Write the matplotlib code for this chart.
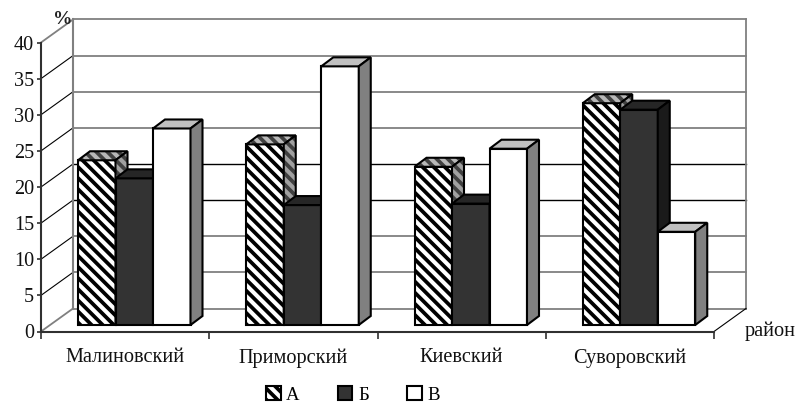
import matplotlib
matplotlib.use('Agg')
import matplotlib.pyplot as plt
from matplotlib.patches import Polygon, Patch

plt.rcParams['font.family'] = ['Liberation Serif', 'DejaVu Serif']
plt.rcParams['hatch.linewidth'] = 2.7
plt.rcParams['hatch.color'] = 'black'

districts = ['Малиновский', 'Приморский', 'Киевский', 'Суворовский']
series_names = ['А', 'Б', 'В']
vals_a = [22.8, 25.0, 21.9, 30.7]
vals_b = [20.3, 16.6, 16.8, 29.8]
vals_v = [27.2, 35.8, 24.4, 12.9]
yticks = [0, 5, 10, 15, 20, 25, 30, 35, 40]

W, H = 798, 405
fig = plt.figure(figsize=(W / 100, H / 100), dpi=100)
ax = fig.add_axes([41 / W, (H - 331.5) / H, 673 / W, 289 / H])
ax.set_xlim(0, 4)
ax.set_ylim(0, 40)

# pixels -> data units, for the fake 3d depth
px = 4 / 673
py = 40 / 289
wall_dx, wall_dy = 32 * px, 23 * py
bar_dx, bar_dy = 12 * px, 9 * py
base_dy = 6.5 * py
bar_w = 37.5 * px

gray = '#808080'
hatch_a = '\\\\\\'

# back wall and grid
grid_cols = [gray, gray, gray, 'black', 'black', gray, gray, gray, gray]
for v, c in zip(yticks, grid_cols):
    ax.plot([wall_dx, 4 + wall_dx], [v + wall_dy, v + wall_dy], color=c, lw=1.0 if c == 'black' else 1.3, clip_on=False, zorder=1)
    ax.plot([0, wall_dx], [v, v + wall_dy], color='black' if 0 < v < 40 else gray, lw=0.8 if 0 < v < 40 else 1.3, clip_on=False, zorder=1)
ax.plot([wall_dx, wall_dx], [wall_dy, 40 + wall_dy], color=gray, lw=1.5, clip_on=False, zorder=1)
ax.plot([4 + wall_dx, 4 + wall_dx], [wall_dy, 40 + wall_dy], color=gray, lw=1.3, clip_on=False, zorder=1)
ax.plot([4, 4 + wall_dx], [0, wall_dy], color='black', lw=0.8, clip_on=False, zorder=1)


def face(pts, fc, hatch=None, hc='black'):
    if hatch:
        ax.add_patch(Polygon(pts, closed=True, facecolor=fc, edgecolor=hc, hatch=hatch, lw=0, clip_on=False, zorder=3))
        ax.add_patch(Polygon(pts, closed=True, fill=False, edgecolor='black', lw=1.5, clip_on=False, zorder=3))
    else:
        ax.add_patch(Polygon(pts, closed=True, facecolor=fc, edgecolor='black', lw=1.5, clip_on=False, zorder=3))


def bar3d(x, v, front, top, side, hatch=None, top_hc='#404040', side_hc='#404040'):
    y0 = base_dy
    x1 = x + bar_w
    face([(x, y0), (x1, y0), (x1, v + y0), (x, v + y0)], front, hatch)
    face([(x, v + y0), (x1, v + y0), (x1 + bar_dx, v + y0 + bar_dy), (x + bar_dx, v + y0 + bar_dy)], top, hatch, top_hc)
    face([(x1, y0), (x1 + bar_dx, y0 + bar_dy), (x1 + bar_dx, v + y0 + bar_dy), (x1, v + y0)], side, hatch, side_hc)


offset = 37 * px
for i in range(len(districts)):
    x = i + offset
    bar3d(x, vals_a[i], 'white', '#b8b8b8', '#a0a0a0', hatch_a)
    bar3d(x + bar_w, vals_b[i], '#333333', '#262626', '#1a1a1a')
    bar3d(x + 2 * bar_w, vals_v[i], 'white', '#c0c0c0', gray)

# axes
for s in ['top', 'right']:
    ax.spines[s].set_visible(False)
for s in ['left', 'bottom']:
    ax.spines[s].set_color('#303030')
    ax.spines[s].set_linewidth(1.5)
    ax.spines[s].set_zorder(5)
ax.patch.set_visible(False)
ax.set_yticks(yticks)
ax.set_xticks(range(5))
ax.set_xticklabels([])
ax.set_xticks([0.5, 1.5, 2.5, 3.5], minor=True)
ax.set_xticklabels(districts, minor=True)
ax.tick_params(axis='x', which='minor', length=0, labelsize=14.6, pad=12, labelcolor='#111111')
ax.tick_params(axis='x', which='major', length=5, width=1.2, color='#303030')
ax.tick_params(axis='y', length=3, width=1.2, color='#303030', labelsize=14.6, pad=2, labelcolor='#111111')

fig.text(63 / W, 1 - 20 / H, '%', fontsize=14, ha='center', va='center', fontweight='bold', color='#222222')
fig.text(745 / W, 1 - 331 / H, 'район', fontsize=14.6, ha='left', va='center', color='#111111')

handles = [
    Patch(facecolor='white', edgecolor='black', hatch=hatch_a, lw=1.5),
    Patch(facecolor='#333333', edgecolor='black', lw=1.5),
    Patch(facecolor='white', edgecolor='black', lw=1.5),
]
fig.legend(handles, series_names, ncol=3, loc='center', bbox_to_anchor=(353 / W, 1 - 395 / H), frameon=False,
           fontsize=13.5, handlelength=0.76, handleheight=0.76, handletextpad=0.3, columnspacing=2.05, borderpad=0)

fig.savefig('out.png', dpi=100)
